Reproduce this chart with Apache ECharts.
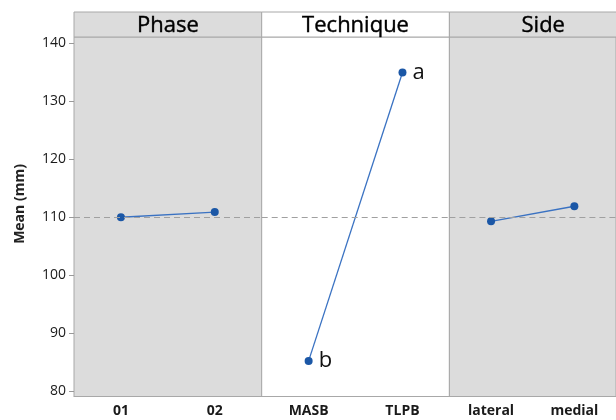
<!DOCTYPE html>
<html>
<head>
<meta charset="utf-8">
<style>html,body{margin:0;padding:0;background:#fff;}#c{width:616px;height:420px;}</style>
<script src="https://cdn.jsdelivr.net/npm/echarts@6/dist/echarts.min.js"></script>
</head>
<body>
<div id="c"></div>
<script>
// ---- data ----
var panels = ['Phase', 'Technique', 'Side'];
var phaseCats = ['01', '02'];
var phaseMeans = [110.0, 110.9];
var techCats = ['MASB', 'TLPB'];
var techMeans = [85.2, 135.0];
var techLetters = ['b', 'a'];
var sideCats = ['lateral', 'medial'];
var sideMeans = [109.3, 111.9];
var grandMean = 110;
var yTicks = [80, 90, 100, 110, 120, 130, 140];

var cats = [phaseCats, techCats, sideCats];
var means = [phaseMeans, techMeans, sideMeans];
var letters = [null, techLetters, null];
var panelBg = ['#dcdcdc', '#ffffff', '#dcdcdc'];

var chart = echarts.init(document.getElementById('c'));
var PL = 74, PW = 187.7, TOP = 37, H = 359.5, HEAD = 25;
var FONT = '"Open Sans", "Noto Sans", sans-serif';

var grids = [], xAxes = [], yAxes = [], series = [], graphics = [];
for (var i = 0; i < 3; i++) {
  grids.push({left: PL + i * PW, top: TOP, width: PW, height: H, show: true,
    backgroundColor: panelBg[i], borderColor: '#a8a8a8', borderWidth: 1});
  xAxes.push({type: 'category', gridIndex: i, data: cats[i], boundaryGap: true,
    axisLine: {lineStyle: {color: '#a8a8a8'}},
    axisTick: {alignWithLabel: true, length: 4, lineStyle: {color: '#a8a8a8'}},
    axisLabel: {color: '#1a1a1a', fontSize: 14, fontWeight: 'bold', fontFamily: FONT, margin: 8}});
  yAxes.push({type: 'value', gridIndex: i, min: 79.05, max: 141.12, show: i === 0,
    splitLine: {show: false},
    axisLine: {show: false},
    axisTick: {show: true, length: 5, customValues: yTicks, lineStyle: {color: '#999'}},
    axisLabel: {color: '#1a1a1a', fontSize: 14, fontFamily: FONT, margin: 8, customValues: yTicks}});
  var lt = letters[i];
  series.push({type: 'line', xAxisIndex: i, yAxisIndex: i, data: means[i],
    symbol: 'circle', symbolSize: 8,
    itemStyle: {color: '#1b57a6'},
    lineStyle: {color: '#3a72c2', width: 1.3},
    label: {show: !!lt, position: 'right', distance: 6, fontSize: 22, color: '#111', fontFamily: FONT,
      formatter: (function (arr) { return function (p) { return arr ? arr[p.dataIndex] : ''; }; })(lt)},
    markLine: {silent: true, symbol: 'none', label: {show: false},
      lineStyle: {color: '#a0a0a0', type: [6, 4], width: 1},
      data: [{yAxis: grandMean}]},
    z: 3});
  graphics.push({type: 'rect', shape: {x: PL + i * PW, y: TOP - HEAD, width: PW, height: HEAD},
    style: {fill: panelBg[i], stroke: '#a8a8a8', lineWidth: 1}});
  graphics.push({type: 'text', x: PL + i * PW + PW / 2, y: TOP - HEAD / 2 + 1,
    style: {text: panels[i], fill: '#000', font: '22px ' + FONT, textAlign: 'center', textVerticalAlign: 'middle',
      stroke: '#000', lineWidth: 0.4}});
}
graphics.push({type: 'text', x: 20, y: 204, rotation: Math.PI / 2,
  style: {text: 'Mean (mm)', fill: '#222', font: 'bold 14px ' + FONT, textAlign: 'center', textVerticalAlign: 'middle'}});

chart.setOption({
  animation: false,
  grid: grids, xAxis: xAxes, yAxis: yAxes, series: series, graphic: graphics
});
</script>
</body>
</html>
